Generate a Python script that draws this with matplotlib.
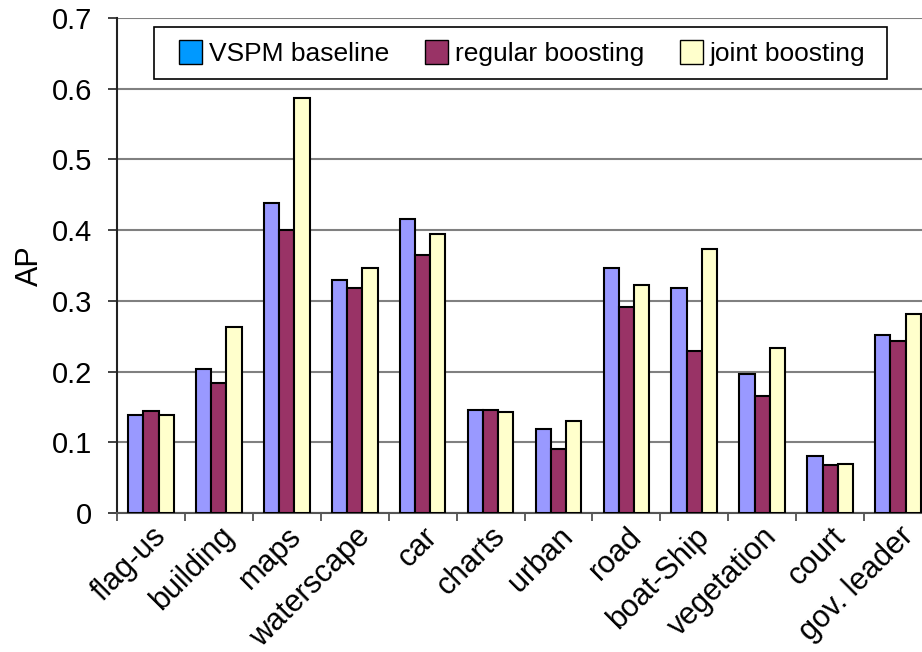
import numpy as np
import matplotlib.pyplot as plt
from matplotlib.patches import Patch, Rectangle

plt.rcParams['font.family'] = ['Liberation Sans', 'DejaVu Sans']

categories = ['flag-us', 'building', 'maps', 'waterscape', 'car', 'charts',
              'urban', 'road', 'boat-Ship', 'vegetation', 'court', 'gov. leader']
vspm = [0.138, 0.204, 0.438, 0.330, 0.416, 0.146, 0.119, 0.347, 0.318, 0.197, 0.081, 0.252]
regular = [0.144, 0.184, 0.400, 0.318, 0.365, 0.146, 0.091, 0.292, 0.229, 0.166, 0.068, 0.243]
joint = [0.138, 0.263, 0.587, 0.347, 0.395, 0.143, 0.130, 0.323, 0.374, 0.234, 0.070, 0.281]
series_names = ['VSPM baseline', 'regular boosting', 'joint boosting']

fig = plt.figure(figsize=(9.22, 6.52), dpi=100)
ax = fig.add_axes([117/922, (652-513)/652, (932-117)/922, (513-18)/652])

x = np.arange(len(categories))
w = 0.224
ax.bar(x - w, vspm, w, color='#9999ff', edgecolor='black', linewidth=1.5, zorder=3)
ax.bar(x, regular, w, color='#993366', edgecolor='black', linewidth=1.5, zorder=3)
ax.bar(x + w, joint, w, color='#ffffcc', edgecolor='black', linewidth=1.5, zorder=3)

ax.set_xlim(-0.5, len(categories) - 0.5)
ax.set_ylim(0, 0.7)
ax.set_yticks(np.arange(0, 0.71, 0.1))
ax.set_yticklabels(['0'] + ['%.1f' % v for v in np.arange(0.1, 0.71, 0.1)], fontsize=21)
ax.yaxis.grid(True, color='#808080', linewidth=1.5, zorder=0)
ax.set_axisbelow(True)

# category boundaries get the tick marks, centres get the labels
ax.set_xticks(x - 0.5)
ax.set_xticklabels([])
ax.set_xticks(x, minor=True)
ax.set_xticklabels(categories, minor=True, rotation=45, ha='right',
                   rotation_mode='anchor', fontsize=22)
ax.tick_params(axis='x', which='minor', length=0, pad=6)
ax.tick_params(axis='x', which='major', length=6, width=1.2, color='#444444')
ax.tick_params(axis='y', length=6.5, width=1.2, color='#222222', pad=11.5)

for s in ['top', 'right']:
    ax.spines[s].set_visible(False)
ax.spines['left'].set_linewidth(1.5)
ax.spines['left'].set_color('#222222')
ax.spines['bottom'].set_linewidth(1.5)
ax.spines['bottom'].set_color('#555555')

ax.set_ylabel('AP', fontsize=22, labelpad=5)

# legend box drawn by hand so the frame matches the original
fig.patches.append(Rectangle((154/922, 1 - 79/652), (887-154)/922, 52/652,
                             transform=fig.transFigure, facecolor='white',
                             edgecolor='black', linewidth=1.2, zorder=9))
handles = [Patch(facecolor='#0099ff', edgecolor='black'),
           Patch(facecolor='#993366', edgecolor='black'),
           Patch(facecolor='#ffffcc', edgecolor='black')]
leg = fig.legend(handles, series_names, loc='center left', ncol=3,
                 bbox_to_anchor=(179/922, 1 - 53/652), bbox_transform=fig.transFigure,
                 borderaxespad=0, borderpad=0, fontsize=19, frameon=False,
                 handlelength=0.87, handleheight=1.0, handletextpad=0.27,
                 columnspacing=1.35)
leg.set_zorder(10)

fig.savefig('out.png', dpi=100)
